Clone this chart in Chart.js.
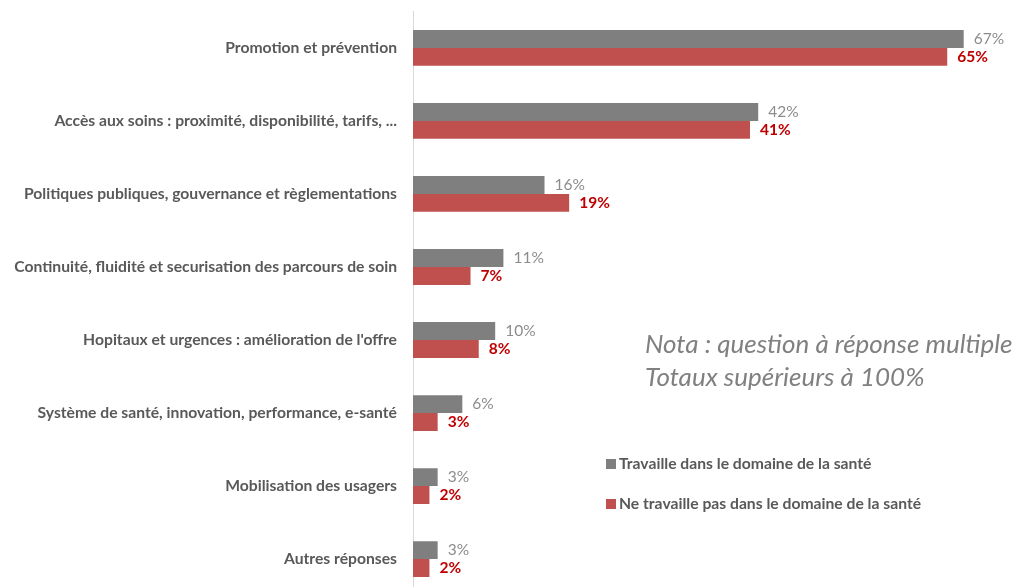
<!DOCTYPE html>
<html>
<head>
    <meta charset="utf-8"/>
    <title>Thèmes prioritaires</title>
    <style>
        html, body { margin: 0; padding: 0; background: #ffffff; overflow: hidden; }
        canvas { display: block; margin-top: -6px; }
    </style>
</head>
<body>
    <canvas id="barChart" width="1023" height="619"></canvas>

    <script src="https://cdn.jsdelivr.net/npm/chart.js"></script>
    <script>
        // data
        const categories = [
            "Promotion et prévention",
            "Accès aux soins : proximité, disponibilité, tarifs, ...",
            "Politiques publiques, gouvernance et règlementations",
            "Continuité, fluidité et securisation des parcours de soin",
            "Hopitaux et urgences : amélioration de l'offre",
            "Système de santé, innovation, performance, e-santé",
            "Mobilisation des usagers",
            "Autres réponses"
        ];
        const santeValues = [67, 42, 16, 11, 10, 6, 3, 3];
        const horsSanteValues = [65, 41, 19, 7, 8, 3, 2, 2];
        const seriesNames = ["Travaille dans le domaine de la santé", "Ne travaille pas dans le domaine de la santé"];
        const noteLines = ["Nota : question à réponse multiple", "Totaux supérieurs à 100%"];

        const FONT = "Lato, 'Open Sans', sans-serif";
        const SHIFT = 6; // canvas is pulled up by this many px

        // value labels next to each bar
        const valueLabels = {
            id: 'valueLabels',
            afterDatasetsDraw(chart) {
                const ctx = chart.ctx;
                ctx.save();
                ctx.textBaseline = 'middle';
                ctx.textAlign = 'left';
                chart.data.datasets.forEach((ds, i) => {
                    const meta = chart.getDatasetMeta(i);
                    ctx.font = (i === 0 ? '' : 'bold ') + '15.5px ' + FONT;
                    ctx.fillStyle = i === 0 ? '#8c8c8c' : '#c00000';
                    meta.data.forEach((bar, j) => {
                        ctx.fillText(ds.data[j] + '%', bar.x + 10, bar.y);
                    });
                });
                ctx.restore();
            }
        };

        // legend + note drawn inside the plot area
        const notesAndLegend = {
            id: 'notesAndLegend',
            afterDraw(chart) {
                const ctx = chart.ctx;
                ctx.save();
                ctx.textBaseline = 'middle';
                ctx.textAlign = 'left';
                ctx.font = 'italic 26px ' + FONT;
                ctx.fillStyle = '#808080';
                noteLines.forEach((t, i) => ctx.fillText(t, 645, SHIFT + 345 + i * 33));

                ctx.font = 'bold 15.7px ' + FONT;
                chart.data.datasets.forEach((ds, i) => {
                    const y = SHIFT + 464 + i * 40;
                    ctx.fillStyle = ds.backgroundColor;
                    ctx.fillRect(606, y - 5, 10, 10);
                    ctx.fillStyle = '#595959';
                    ctx.fillText(ds.label, 619, y);
                });
                ctx.restore();
            }
        };

        const ctx = document.getElementById('barChart').getContext('2d');
        window.barChart = new Chart(ctx, {
            type: 'bar',
            data: {
                labels: categories,
                datasets: [{
                    label: seriesNames[0],
                    data: santeValues,
                    backgroundColor: '#7f7f7f',
                    categoryPercentage: 0.49,
                    barPercentage: 1
                }, {
                    label: seriesNames[1],
                    data: horsSanteValues,
                    backgroundColor: '#c0504d',
                    categoryPercentage: 0.49,
                    barPercentage: 1
                }]
            },
            options: {
                indexAxis: 'y',
                responsive: false,
                animation: false,
                layout: { padding: { top: 0, right: 10, bottom: 0, left: 0 } },
                plugins: {
                    legend: { display: false },
                    tooltip: { enabled: false }
                },
                scales: {
                    x: {
                        display: false,
                        min: 0,
                        max: 73
                    },
                    y: {
                        grid: { display: false },
                        border: { display: true, color: '#d9d9d9', width: 1 },
                        ticks: {
                            color: '#595959',
                            padding: 8,
                            font: { family: FONT, size: 15.7, weight: 'bold' }
                        },
                        afterFit(axis) { axis.width = 413; }
                    }
                }
            },
            plugins: [valueLabels, notesAndLegend]
        });
    </script>
</body>
</html>
